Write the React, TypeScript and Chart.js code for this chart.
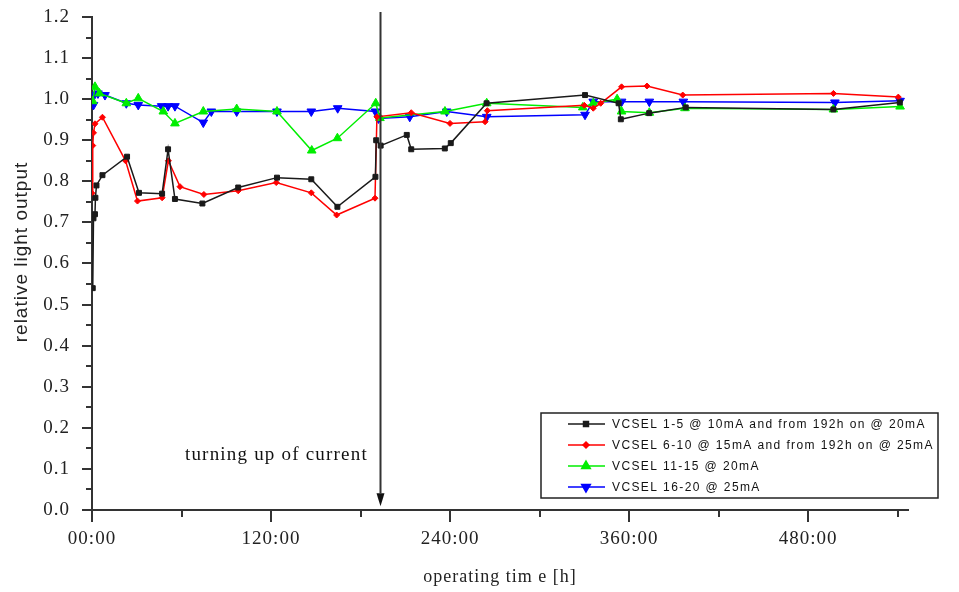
import React, { useEffect, useRef } from 'react';
import { Chart, registerables } from 'chart.js';
import { drawPoint } from 'chart.js/helpers';

Chart.register(...registerables);

// ---- data (hours, relative light output) ----
const seriesLabels = [
  'VCSEL 1-5 @ 10mA and from 192h on @ 20mA',
  'VCSEL 6-10 @ 15mA and from 192h on @ 25mA',
  'VCSEL 11-15 @ 20mA',
  'VCSEL 16-20 @ 25mA',
];

const s1Hours = [0.5, 1, 2, 2.3, 3, 7, 23.5, 31.5, 47, 51, 55.6, 74, 98, 124, 147, 164.5, 190, 190.5, 193.5, 211, 214, 236.5, 240.5, 264.5, 330.5, 353, 354.5, 373.5, 398, 497, 541.5];
const s1Values = [0.54, 0.71, 0.72, 0.76, 0.79, 0.815, 0.86, 0.772, 0.77, 0.878, 0.757, 0.746, 0.785, 0.809, 0.805, 0.738, 0.811, 0.9, 0.887, 0.913, 0.878, 0.88, 0.893, 0.99, 1.01, 0.99, 0.951, 0.966, 0.98, 0.975, 0.992];

const s2Hours = [0, 0.5, 1, 2, 7, 22.5, 30.5, 47, 51.2, 59, 75, 98, 123.5, 147, 164, 189.7, 191, 214, 240, 263.5, 265, 330, 336, 341, 355, 372, 396, 497, 540.5];
const s2Values = [0.771, 0.887, 0.918, 0.94, 0.956, 0.85, 0.752, 0.76, 0.85, 0.787, 0.768, 0.777, 0.797, 0.772, 0.718, 0.759, 0.957, 0.967, 0.941, 0.945, 0.972, 0.985, 0.978, 0.99, 1.03, 1.032, 1.01, 1.014, 1.005];

const s3Hours = [0.5, 2, 5, 23, 31, 47.8, 55.6, 74.6, 97, 124, 147.3, 164.5, 190.2, 193, 236.6, 264.6, 329, 336, 352, 355, 373.6, 397.5, 497, 541.7];
const s3Values = [0.995, 1.03, 1.014, 0.99, 1.002, 0.97, 0.941, 0.97, 0.976, 0.97, 0.875, 0.905, 0.99, 0.954, 0.97, 0.99, 0.98, 0.99, 1.0, 0.97, 0.967, 0.978, 0.975, 0.982];

const s4Hours = [1, 1.5, 4, 8.7, 23, 31, 46.7, 51, 55.6, 74.6, 80, 97, 124, 147, 164.7, 190, 192, 213, 237.8, 264.6, 330.5, 336, 355, 373.6, 396.4, 498, 541.7];
const s4Values = [0.986, 1.01, 1.014, 1.01, 0.99, 0.986, 0.983, 0.983, 0.983, 0.943, 0.97, 0.97, 0.97, 0.97, 0.978, 0.97, 0.953, 0.957, 0.97, 0.957, 0.962, 0.994, 0.994, 0.994, 0.994, 0.992, 0.996];

const xTickHours = [0, 60, 120, 180, 240, 300, 360, 420, 480, 540];
const yTickValues = [0, 0.1, 0.2, 0.3, 0.4, 0.5, 0.6, 0.7, 0.8, 0.9, 1.0, 1.1, 1.2];

const currentStepHour = 193;
const annotationText = 'turning up of current';
const xTitle = 'operating tim e [h]';
const yTitle = 'relative light output';

const toPoints = (xs: number[], ys: number[]) => xs.map((x, i) => ({ x, y: ys[i] }));

const AXIS = '#333333';

const spacingPlugin = {
  id: 'spacing',
  beforeDraw(chart: any) {
    try { (chart.ctx as any).letterSpacing = '1px'; } catch (e) {}
  },
  afterDraw(chart: any) {
    try { (chart.ctx as any).letterSpacing = '0px'; } catch (e) {}
  },
};

const extrasPlugin = {
  id: 'extras',
  afterDatasetsDraw(chart: any) {
    const ctx = chart.ctx as CanvasRenderingContext2D;
    const xs = chart.scales.x;
    const ys = chart.scales.y;
    const area = chart.chartArea;
    ctx.save();
    // tick marks
    ctx.strokeStyle = AXIS;
    ctx.lineWidth = 2;
    ctx.beginPath();
    for (let i = 0; i <= 24; i++) {
      const v = i * 0.05;
      const py = Math.round(ys.getPixelForValue(v));
      const len = i % 2 === 0 ? 10 : 6;
      ctx.moveTo(area.left - len, py);
      ctx.lineTo(area.left, py);
    }
    xTickHours.forEach((h) => {
      const px = Math.round(xs.getPixelForValue(h));
      const len = h % 120 === 0 ? 12 : 7;
      ctx.moveTo(px, area.bottom);
      ctx.lineTo(px, area.bottom + len);
    });
    ctx.stroke();

    // y axis title
    ctx.save();
    ctx.translate(22, 252);
    ctx.rotate(-Math.PI / 2);
    ctx.fillStyle = '#222';
    ctx.font = '19px "Liberation Sans", Arial, sans-serif';
    try { (ctx as any).letterSpacing = '1px'; } catch (e) {}
    ctx.textAlign = 'center';
    ctx.textBaseline = 'middle';
    ctx.fillText(yTitle, 0, 0);
    ctx.restore();

    // vertical arrow
    const ax = Math.round(xs.getPixelForValue(currentStepHour)) + 0.5;
    const yTop = ys.getPixelForValue(1.212);
    const yBase = ys.getPixelForValue(0.041);
    const yTip = ys.getPixelForValue(0.009);
    ctx.strokeStyle = AXIS;
    ctx.lineWidth = 2;
    ctx.beginPath();
    ctx.moveTo(ax, yTop);
    ctx.lineTo(ax, yBase);
    ctx.stroke();
    ctx.fillStyle = '#111';
    ctx.beginPath();
    ctx.moveTo(ax - 4, yBase);
    ctx.lineTo(ax + 4, yBase);
    ctx.lineTo(ax, yTip);
    ctx.closePath();
    ctx.fill();

    // annotation text
    ctx.fillStyle = '#111';
    ctx.font = '19px "Liberation Serif", serif';
    try { (ctx as any).letterSpacing = '1.2px'; } catch (e) {}
    ctx.textBaseline = 'middle';
    ctx.textAlign = 'left';
    ctx.fillText(annotationText, xs.getPixelForValue(62.3), ys.getPixelForValue(0.134));

    // legend box
    const bx = 541, by = 413, bw = 397, bh = 85;
    ctx.fillStyle = '#fff';
    ctx.fillRect(bx, by, bw, bh);
    ctx.strokeStyle = '#222';
    ctx.lineWidth = 1.5;
    ctx.strokeRect(bx, by, bw, bh);
    chart.data.datasets.forEach((ds: any, i: number) => {
      const ry = by + 11 + i * 21;
      ctx.strokeStyle = ds.borderColor;
      ctx.lineWidth = 1.5;
      ctx.beginPath();
      ctx.moveTo(568, ry);
      ctx.lineTo(605, ry);
      ctx.stroke();
      ctx.fillStyle = ds.pointBackgroundColor;
      ctx.strokeStyle = ds.pointBorderColor;
      drawPoint(ctx, { pointStyle: ds.pointStyle, rotation: ds.pointRotation || 0, radius: ds.pointRadius, borderWidth: 1 }, 586, ry);
      ctx.fillStyle = '#111';
      ctx.font = '12px "Liberation Sans", Arial, sans-serif';
      try { (ctx as any).letterSpacing = '1.4px'; } catch (e) {}
      ctx.textBaseline = 'middle';
      ctx.fillText(ds.label, 612, ry + 1);
    });
    try { (ctx as any).letterSpacing = '1px'; } catch (e) {}
    ctx.restore();
  },
};

export default function App() {
  const ref = useRef<HTMLCanvasElement | null>(null);
  useEffect(() => {
    if (!ref.current) return;
    const mk = (i: number, xs: number[], ys: number[], color: string, style: string, radius: number, rot = 0) => ({
      label: seriesLabels[i],
      data: toPoints(xs, ys),
      borderColor: color,
      backgroundColor: color,
      pointBackgroundColor: color,
      pointBorderColor: color,
      pointStyle: style,
      pointRotation: rot,
      pointRadius: radius,
      pointBorderWidth: 1,
      borderWidth: 1.5,
      tension: 0,
    });
    const chart = new Chart(ref.current, {
      type: 'line',
      data: {
        datasets: [
          mk(0, s1Hours, s1Values, '#1a1a1a', 'rect', 3.5),
          mk(1, s2Hours, s2Values, '#ff0000', 'rectRot', 3),
          mk(2, s3Hours, s3Values, '#00ee00', 'triangle', 5),
          mk(3, s4Hours, s4Values, '#0000ff', 'triangle', 5, 180),
        ] as any,
      },
      options: {
        animation: false,
        responsive: false,
        devicePixelRatio: 1,
        layout: { padding: { top: 17, right: 51, left: 0, bottom: 0 } },
        plugins: { legend: { display: false }, tooltip: { enabled: false } },
        scales: {
          x: {
            type: 'linear',
            min: 0,
            max: 547,
            afterBuildTicks: (axis: any) => {
              axis.ticks = xTickHours.map((v) => ({ value: v }));
            },
            afterFit: (s: any) => { s.height = 82; },
            ticks: {
              autoSkip: false,
              maxRotation: 0,
              padding: 18,
              color: '#222',
              font: { family: '"Liberation Serif", serif', size: 19 },
              callback: (v: any) => (Number(v) % 120 === 0 ? (Number(v) === 0 ? '00' : String(v)) + ':00' : ''),
            },
            grid: { display: true, drawOnChartArea: false, drawTicks: false },
            border: { display: true, color: AXIS, width: 2 },
            title: {
              display: true,
              text: xTitle,
              color: '#222',
              font: { family: '"Liberation Serif", serif', size: 18 },
              padding: { top: 4, bottom: 4 },
            },
          },
          y: {
            type: 'linear',
            min: 0,
            max: 1.2,
            afterBuildTicks: (axis: any) => {
              axis.ticks = yTickValues.map((v) => ({ value: v }));
            },
            afterFit: (s: any) => { s.width = 92; },
            ticks: {
              padding: 3,
              color: '#222',
              font: { family: '"Liberation Serif", serif', size: 19 },
              callback: (v: any) => Number(v).toFixed(1),
            },
            grid: { display: true, drawOnChartArea: false, drawTicks: true, tickLength: 19, tickColor: 'rgba(0,0,0,0)' },
            border: { display: true, color: AXIS, width: 2 },
            title: { display: false, text: yTitle },
          },
        },
      },
      plugins: [spacingPlugin, extrasPlugin],
    });
    return () => chart.destroy();
  }, []);
  return (
    <div style={{ position: 'absolute', left: 0, top: 0, width: 959, height: 592, background: '#fff' }}>
      <canvas ref={ref} width={959} height={592} />
    </div>
  );
}
